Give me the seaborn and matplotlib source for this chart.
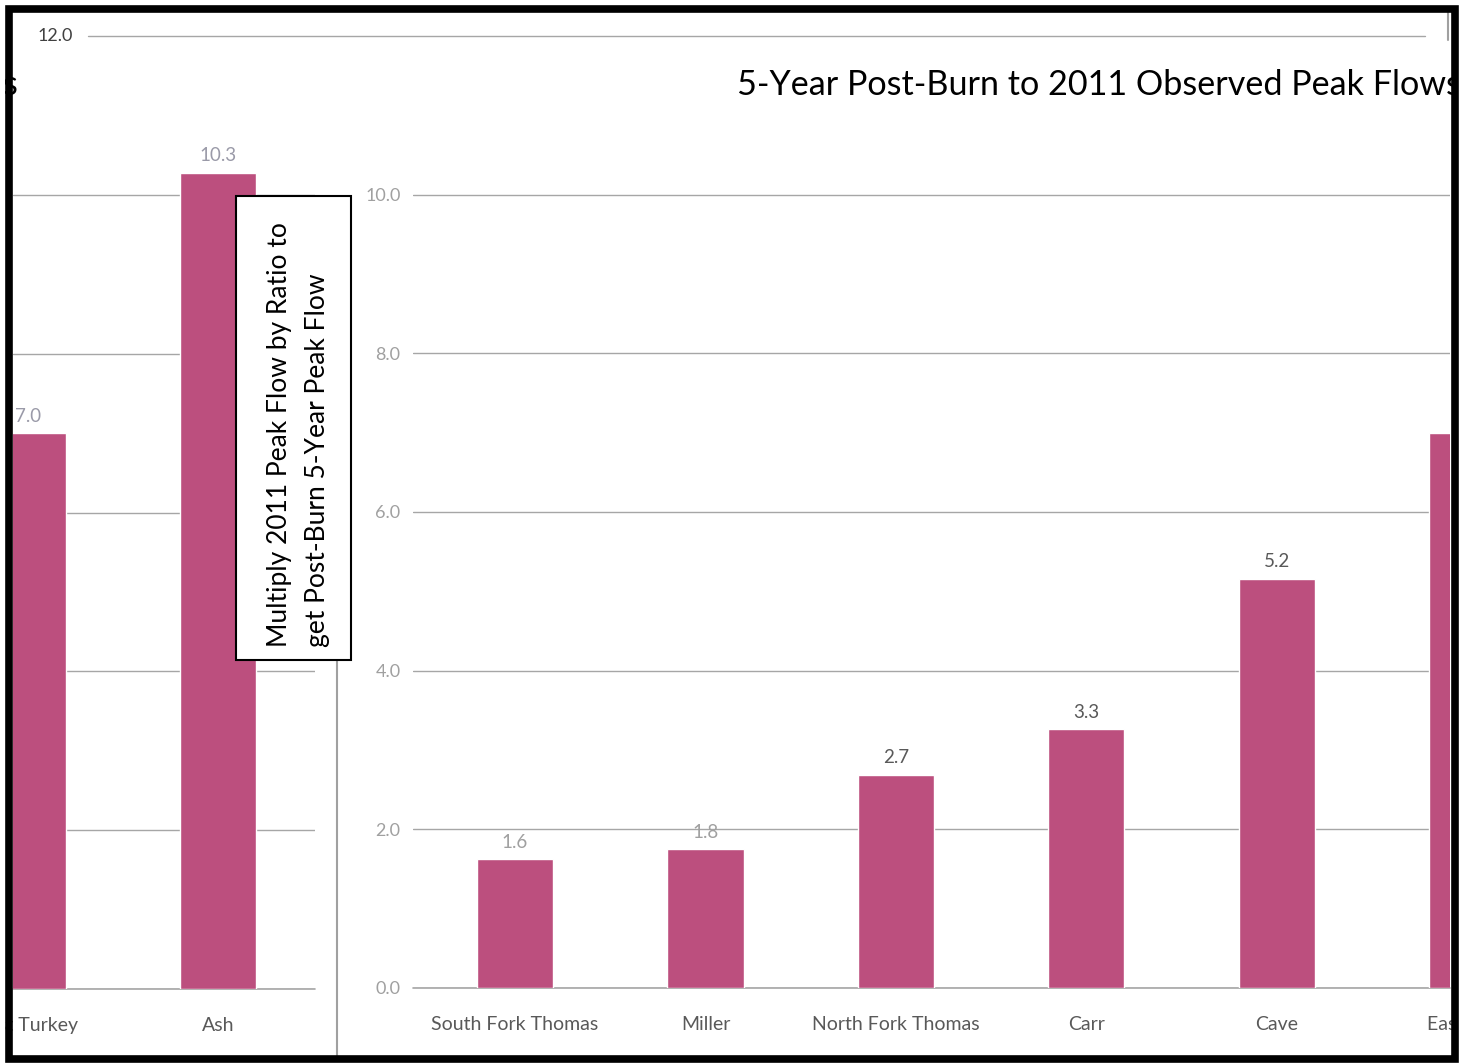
import pandas as pd
import matplotlib.pyplot as plt
import seaborn as sns
from matplotlib.patches import Rectangle
from matplotlib.lines import Line2D
from matplotlib.ticker import FormatStrFormatter

# ratio values
left_sites = ['East Turkey', 'Ash']
left_ratios = [7.0, 10.28]
right_sites = ['South Fork Thomas', 'Miller', 'North Fork Thomas', 'Carr', 'Cave', 'East Fork']
right_ratios = [1.62, 1.75, 2.69, 3.26, 5.16, 7.0]
y_ticks = [0, 2, 4, 6, 8, 10]

TITLE = '5-Year Post-Burn to 2011 Observed Peak Flows'
NOTE = 'Multiply 2011 Peak Flow by Ratio to\nget Post-Burn 5-Year Peak Flow'
BAR = '#BC4F7E'
GRID = '#A6A6A6'
CAT_SIZE = 14

W, H = 1468, 1063


def fx(x):
    return x / W


def fy(y):
    return 1 - y / H


def rect(x0, y0, x1, y1):
    """pixel box -> figure fraction [l, b, w, h]"""
    return [fx(x0), fy(y1), (x1 - x0) / W, (y1 - y0) / H]


def style_axis(ax, n, xlim, tick_labels_on):
    ax.set_yticks(y_ticks)
    ax.yaxis.set_major_formatter(FormatStrFormatter('%.1f'))
    ax.yaxis.grid(True, color=GRID, lw=1)
    ax.xaxis.grid(False)
    for s in ax.spines.values():
        s.set_visible(False)
    ax.set_xlabel('')
    ax.set_ylabel('')
    ax.tick_params(axis='y', length=0, labelsize=13, labelcolor='#A0A0A0', pad=9,
                   labelleft=tick_labels_on)
    ax.set_xticks(range(n))
    ax.set_xticks([i - 0.5 for i in range(n + 1)], minor=True)
    ax.tick_params(axis='x', which='major', length=0, pad=20, labelsize=CAT_SIZE,
                   labelcolor='#595959')
    ax.tick_params(axis='x', which='minor', length=3, width=1, color='#D0D0D0')
    ax.set_facecolor('none')
    # baseline drawn unclipped so it is not halved at the axes edge
    ax.axhline(0, color=GRID, lw=1.2, clip_on=False, zorder=0.5)
    # limits last, set_ticks can widen the view
    ax.set_xlim(*xlim)
    ax.set_ylim(0, 12)


def hidden_labels(ax, sites):
    """category names whose tick falls outside the view still peek out"""
    lo, hi = ax.get_xlim()
    for i, name in enumerate(sites):
        if i < lo or i > hi:
            ax.annotate(name, xy=(i, 0), xycoords=('data', 'axes fraction'),
                        xytext=(0, -20), textcoords='offset points', ha='center', va='top',
                        fontsize=CAT_SIZE, color='#595959', annotation_clip=False)


sns.set_theme(style='white')
plt.rcParams['font.family'] = ['Lato', 'DejaVu Sans']

fig = plt.figure(figsize=(W / 100, H / 100), dpi=100)

# left (partly hidden) chart
axl = fig.add_axes(rect(13, 36, 315, 989))
ldf = pd.DataFrame({'site': left_sites, 'ratio': left_ratios})
sns.barplot(data=ldf, x='site', y='ratio', color=BAR, width=0.4, saturation=1, ax=axl)
style_axis(axl, len(left_sites), (-0.077, 1.509), False)
hidden_labels(axl, left_sites)
labs = axl.bar_label(axl.containers[0], fmt='%.1f', padding=6, fontsize=13.5)
for t in labs:
    t.set_color('#9A9AA8')
axl.axhline(12, xmin=(88 - 13) / 302, xmax=(1425 - 13) / 302, color=GRID, lw=1, clip_on=False)
fig.text(fx(73), fy(36), '12.0', ha='right', va='center', fontsize=13, color='#404040')

# right chart
axr = fig.add_axes(rect(413, 36, 1450, 988))
rdf = pd.DataFrame({'site': right_sites, 'ratio': right_ratios})
sns.barplot(data=rdf, x='site', y='ratio', color=BAR, width=0.4, saturation=1, ax=axr)
style_axis(axr, len(right_sites), (-0.536, 4.91), True)
hidden_labels(axr, right_sites)
labs = axr.bar_label(axr.containers[0], fmt='%.1f', padding=6, fontsize=13.5)
for i, t in enumerate(labs):
    t.set_color('#A0A0A0' if i < 2 else '#595959')

# titles (left one is cut off by the frame)
fig.text(fx(737), fy(85), TITLE, ha='left', va='center', fontsize=24.6, color='black')
fig.text(fx(18), fy(85), TITLE, ha='right', va='center', fontsize=24.6, color='black')

# divider line and note box
fig.add_artist(Line2D([fx(337), fx(337)], [fy(660), fy(1057)], color='#A0A0A0', lw=1.5, zorder=5))
fig.add_artist(Line2D([fx(1448), fx(1448)], [fy(12), fy(40)], color='#A0A0A0', lw=1.5, zorder=5))
fig.add_artist(Rectangle((fx(236), fy(660)), 115 / W, 464 / H, facecolor='white',
                         edgecolor='black', lw=1.5, zorder=6))
fig.text(fx(298.5), fy(435), NOTE, rotation=90, ha='center', va='center',
         multialignment='left', linespacing=1.7, fontsize=19, color='black', zorder=7)

# white margins and the thick black frame on top of everything
for box in [(0, 0, 5, H), (1458, 0, W, H), (0, 0, W, 5), (0, 1062, W, H)]:
    x0, y0, x1, y1 = box
    fig.add_artist(Rectangle((fx(x0), fy(y1)), (x1 - x0) / W, (y1 - y0) / H,
                             facecolor='white', edgecolor='none', zorder=20))
fig.add_artist(Rectangle((fx(8.5), fy(1058.5)), 1446 / W, 1050 / H, facecolor='none',
                         edgecolor='black', lw=5.5, zorder=21))

fig.savefig('out.png', dpi=100)
